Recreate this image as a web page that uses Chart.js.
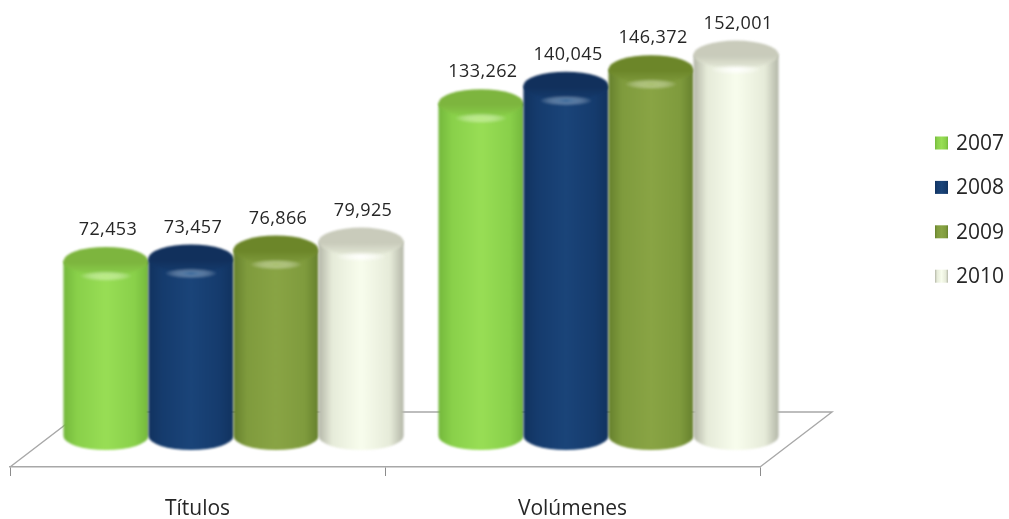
<!DOCTYPE html>
<html>
<head>
<meta charset="utf-8">
<title>Títulos y Volúmenes</title>
<style>
  html, body { margin: 0; padding: 0; background: #fff; }
  canvas { display: block; }
</style>
<script src="https://cdn.jsdelivr.net/npm/chart.js@4"></script>
</head>
<body>
<canvas id="grafico" width="1009" height="519"></canvas>
<script>
var categorias = ['Títulos', 'Volúmenes'];
var anios = ['2007', '2008', '2009', '2010'];
var valores2007 = [72453, 133262];
var valores2008 = [73457, 140045];
var valores2009 = [76866, 146372];
var valores2010 = [79925, 152001];

// borde, medio, centro, tapa, brillo de cada cilindro
var verde = ['#74b83c', '#89d04a', '#98de55', '#7db53e', '#b6ea7c'];
var azul = ['#11325f', '#153b6d', '#1a4479', '#11305c', '#2f6196'];
var oliva = ['#66802d', '#7f9b3d', '#89a444', '#6c8629', '#a5bd66'];
var blanco = ['#b4b7a8', '#e6ebd9', '#f8fded', '#c9cbbb', '#ffffff'];

var FUENTE = '"Open Sans", sans-serif';
var PROF_X = 36, PROF_Y = -31; // desplazamiento 3D del fondo del grafico
var RADIO_Y = 14;

function sombraCuerpo(ctx, izq, der, c) {
  var g = ctx.createLinearGradient(izq, 0, der, 0);
  g.addColorStop(0, c[0]);
  g.addColorStop(0.16, c[1]);
  g.addColorStop(0.5, c[2]);
  g.addColorStop(0.84, c[1]);
  g.addColorStop(1, c[0]);
  return g;
}

function cilindro(ctx, barra, base, c) {
  var cx = barra.x + PROF_X, rx = barra.width / 2;
  var arriba = barra.y + PROF_Y, abajo = base + PROF_Y;
  var izq = cx - rx, der = cx + rx;

  ctx.save();
  ctx.filter = 'blur(0.9px)';

  // cuerpo
  ctx.beginPath();
  ctx.moveTo(izq, arriba);
  ctx.lineTo(izq, abajo);
  ctx.ellipse(cx, abajo, rx, RADIO_Y, 0, Math.PI, 0, true);
  ctx.lineTo(der, arriba);
  ctx.closePath();
  ctx.fillStyle = sombraCuerpo(ctx, izq, der, c);
  ctx.fill();

  // tapa, se funde con el cuerpo por delante
  ctx.beginPath();
  ctx.ellipse(cx, arriba, rx, RADIO_Y, 0, 0, Math.PI * 2);
  var tapa = ctx.createLinearGradient(0, arriba - RADIO_Y, 0, arriba + RADIO_Y);
  tapa.addColorStop(0, c[3]);
  tapa.addColorStop(0.55, c[3]);
  tapa.addColorStop(1, c[1]);
  ctx.fillStyle = tapa;
  ctx.fill();

  // brillo bajo el borde de la tapa
  ctx.save();
  ctx.translate(cx, arriba + RADIO_Y + 1);
  ctx.scale(1, 0.2);
  var brillo = ctx.createRadialGradient(0, 0, 0, 0, 0, rx * 0.62);
  brillo.addColorStop(0, c[4]);
  brillo.addColorStop(1, 'rgba(255,255,255,0)');
  ctx.fillStyle = brillo;
  ctx.beginPath();
  ctx.arc(0, 0, rx * 0.62, 0, Math.PI * 2);
  ctx.fill();
  ctx.restore();
  ctx.restore();
}

var planoPlugin = {
  id: 'plano',
  beforeDatasetsDraw: function(chart) {
    var ctx = chart.ctx, a = chart.chartArea;
    var dx = 72, dy = -55;
    ctx.save();
    ctx.strokeStyle = '#a8a8a8';
    ctx.lineWidth = 1.4;
    ctx.beginPath();
    ctx.moveTo(a.left, a.bottom);
    ctx.lineTo(a.left + dx, a.bottom + dy);
    ctx.lineTo(a.right + dx, a.bottom + dy);
    ctx.lineTo(a.right, a.bottom);
    ctx.stroke();
    ctx.restore();
  }
};

var cilindrosPlugin = {
  id: 'cilindros',
  beforeDatasetsDraw: function(chart) {
    var ctx = chart.ctx, base = chart.scales.y.bottom;
    chart.data.datasets.forEach(function(ds, i) {
      chart.getDatasetMeta(i).data.forEach(function(barra) {
        cilindro(ctx, barra, base, ds.sombras);
      });
    });
    // etiquetas de valor
    ctx.save();
    ctx.font = '18px ' + FUENTE;
    ctx.letterSpacing = '0.4px';
    ctx.fillStyle = '#262626';
    ctx.textAlign = 'center';
    ctx.textBaseline = 'middle';
    chart.data.datasets.forEach(function(ds, i) {
      chart.getDatasetMeta(i).data.forEach(function(barra, j) {
        ctx.fillText(ds.data[j].toLocaleString('en-US'), barra.x + PROF_X + 2, barra.y + PROF_Y - 31);
      });
    });
    ctx.restore();
    return false; // las barras planas no se dibujan
  }
};

var leyendaPlugin = {
  id: 'leyenda',
  afterDraw: function(chart) {
    var ctx = chart.ctx;
    var x = 935, y = 143, paso = 44.4, lado = 13;
    ctx.save();
    ctx.font = '21px ' + FUENTE;
    ctx.textBaseline = 'middle';
    chart.data.datasets.forEach(function(ds, i) {
      var fila = y + i * paso;
      ctx.fillStyle = sombraCuerpo(ctx, x, x + lado, ds.sombras);
      ctx.fillRect(x, fila - lado / 2, lado, lado);
      ctx.fillStyle = '#262626';
      ctx.fillText(ds.label, x + 21, fila + 1);
    });
    ctx.restore();
  }
};

new Chart(document.getElementById('grafico').getContext('2d'), {
  type: 'bar',
  data: {
    labels: categorias,
    datasets: [
      { label: anios[0], data: valores2007, backgroundColor: verde[1], sombras: verde },
      { label: anios[1], data: valores2008, backgroundColor: azul[1], sombras: azul },
      { label: anios[2], data: valores2009, backgroundColor: oliva[1], sombras: oliva },
      { label: anios[3], data: valores2010, backgroundColor: blanco[1], sombras: blanco }
    ]
  },
  options: {
    responsive: false,
    animation: false,
    layout: { padding: { left: 10, right: 249, top: 0, bottom: 0 } },
    datasets: { bar: { categoryPercentage: 0.907, barPercentage: 1 } },
    plugins: { legend: { display: false }, tooltip: { enabled: false } },
    scales: {
      x: {
        afterFit: function(scale) { scale.height = 52; },
        border: { color: '#a8a8a8', width: 1.4 },
        grid: { drawOnChartArea: false, drawTicks: true, tickLength: 9, color: '#8c8c8c' },
        ticks: { color: '#262626', padding: 20, font: { family: FUENTE, size: 21 }, maxRotation: 0 }
      },
      y: { display: false, min: 5000, max: 185000 }
    }
  },
  plugins: [planoPlugin, cilindrosPlugin, leyendaPlugin]
});
</script>
</body>
</html>
